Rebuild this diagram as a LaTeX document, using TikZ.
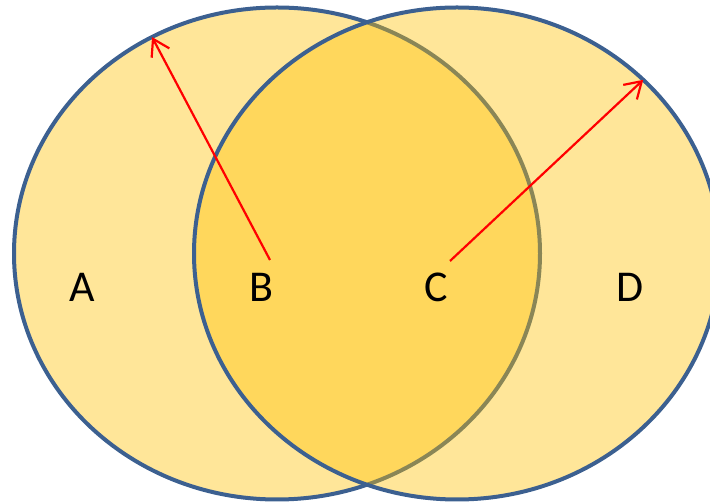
\documentclass[tikz,border=0pt]{standalone}
\usepackage{fontspec}
\setmainfont{Carlito}
\usepackage{tikz}
\usetikzlibrary{arrows.meta,positioning,shapes.geometric}
\definecolor{setfill}{HTML}{FFC000}
\definecolor{setborder}{HTML}{3C6090}
\definecolor{radiusred}{HTML}{FF0000}

\begin{document}
\begin{tikzpicture}[
  x=1pt, y=1pt,
  setbox/.style={ellipse, draw=setborder, line width=4pt, fill=setfill, fill opacity=0.4, draw opacity=1, minimum width=526pt, minimum height=492pt, inner sep=0pt, outer sep=0pt},
  lbl/.style={font=\fontsize{44}{50}\selectfont, inner sep=0pt},
  arr/.style={-{Straight Barb[length=16pt,width=20pt]}, draw=radiusred, line width=2.2pt},
]
  \useasboundingbox (0,0) rectangle (710,503);

  % Sets
  \node[setbox] (left) at (277,249.5) {};
  \node[setbox] (right) at (457,249.5) {};

  % Labels
  \node[lbl] (a) at (82,216) {A};
  \node[lbl] (b) at (261.5,216) {B};
  \node[lbl] (c) at (436.5,216) {C};
  \node[lbl] (d) at (630.5,216) {D};

  % Radii
  \coordinate (bfoot) at (270,243);
  \coordinate (cfoot) at (450,242);
  \draw[arr] (bfoot) -- (left.120.7);
  \draw[arr] (cfoot) -- (right.43.5);
\end{tikzpicture}
\end{document}
